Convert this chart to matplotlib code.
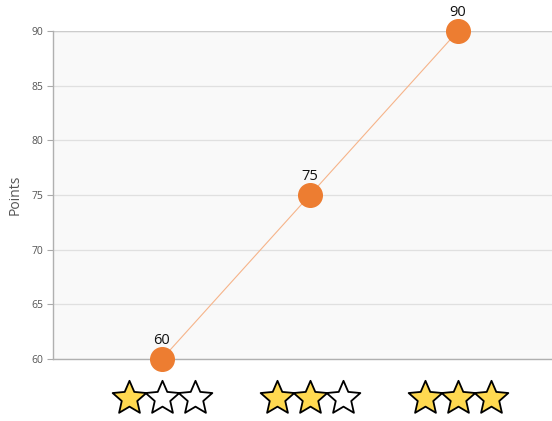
import matplotlib
matplotlib.use("Agg")
import matplotlib.pyplot as plt
import matplotlib.transforms as mtransforms
from matplotlib.path import Path
import numpy as np

ratings = [1, 2, 3]
points = [60, 75, 90]
yticks = [60, 65, 70, 75, 80, 85, 90]
max_stars = 3

plt.rcParams['font.family'] = ['Open Sans', 'DejaVu Sans']

fig = plt.figure(figsize=(5.52, 4.21), dpi=100)
ax = fig.add_axes([53/552, 1 - 359/421, (552-53)/552, (359-31)/421])

x = np.arange(len(ratings))
ax.set_facecolor('#f9f9f9')
ax.plot(x, points, color='#f6b48a', lw=0.8, zorder=2)
ax.plot(x, points, 'o', color='#ED7D31', ms=17, mec='#ED7D31', zorder=3, clip_on=False)
for xi, p in zip(x, points):
    ax.annotate(str(p), (xi, p), xytext=(0, 8), textcoords='offset points',
                ha='center', va='bottom', fontsize=10.5, color='#111111')

ax.set_ylim(60, 90)
ax.set_xlim(-0.736, 2.635)
ax.set_yticks(yticks)
ax.set_yticklabels([str(t) for t in yticks], fontsize=7.5, color='#555555')
ax.tick_params(axis='y', length=4, color='#aaaaaa', pad=3)
ax.set_xticks([])
ax.grid(axis='y', color='#e0e0e0', lw=0.9, zorder=0)
ax.set_axisbelow(True)
for s in ['top', 'right']:
    ax.spines[s].set_visible(False)
ax.spines['left'].set_color('#b0b0b0')
ax.spines['bottom'].set_color('#b0b0b0')
ax.spines['left'].set_linewidth(1.0)
ax.spines['bottom'].set_linewidth(1.0)
ax.axhline(90, color='#cccccc', lw=1.0, zorder=1)
ax.set_ylabel('Points', fontsize=10, color='#555555', labelpad=6)

star = Path.unit_regular_star(5, 0.46)
base = ax.get_xaxis_transform()
for xi, r in zip(x, ratings):
    for k in range(max_stars):
        off = mtransforms.ScaledTranslation((k - 1) * 33 / 100, 0, fig.dpi_scale_trans)
        ax.plot([xi], [-0.12], marker=star, ms=25.5,
                mfc='#FFD950' if k < r else 'white', mec='black', mew=1.3,
                transform=base + off, clip_on=False, zorder=5)

fig.savefig('out.png', dpi=100)
